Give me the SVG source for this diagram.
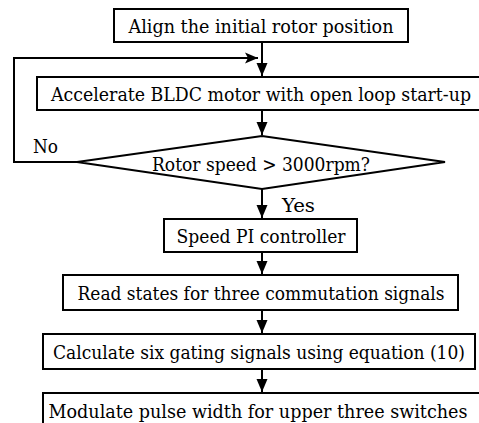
<svg xmlns="http://www.w3.org/2000/svg" width="479" height="423" viewBox="0 0 479 423">
<defs>
<style>
.box{fill:#fff;stroke:#000;stroke-width:2}
text{font-family:'DejaVu Serif Condensed','DejaVu Serif','Liberation Serif',serif;font-stretch:condensed;font-size:19px;fill:#000}
.t{text-anchor:middle}
.c{fill:none;stroke:#000;stroke-width:2}
</style>
<marker id="ah" markerUnits="userSpaceOnUse" markerWidth="14" markerHeight="14" viewBox="0 0 14 14" refX="13" refY="7" orient="auto">
<path d="M0,1.5 L13,7 L0,12.5 Z" fill="#000"/>
</marker>
<marker id="ab" markerUnits="userSpaceOnUse" markerWidth="14" markerHeight="14" viewBox="0 0 14 14" refX="13" refY="7" orient="auto">
<path d="M0,1.5 L13,7 L0,12.5 L3,7 Z" fill="#000"/>
</marker>
</defs>
<g id="connectors">
<line class="c" x1="262" y1="43" x2="262" y2="76" marker-end="url(#ah)"/>
<path class="c" d="M77,162 H14 V58 H258" marker-end="url(#ab)"/>
<line class="c" x1="262" y1="111" x2="262" y2="135" marker-end="url(#ah)"/>
<line class="c" x1="262" y1="189" x2="262" y2="218" marker-end="url(#ah)"/>
<line class="c" x1="262" y1="253" x2="262" y2="274" marker-end="url(#ah)"/>
<line class="c" x1="262" y1="311" x2="262" y2="333" marker-end="url(#ah)"/>
<line class="c" x1="262" y1="370" x2="262" y2="392" marker-end="url(#ah)"/>
<text x="33" y="153" textLength="25" lengthAdjust="spacingAndGlyphs">No</text>
<text x="282" y="212" textLength="33" lengthAdjust="spacingAndGlyphs">Yes</text>
</g>
<g id="align">
<rect class="box" x="114" y="9" width="294" height="33"/>
<text class="t" x="261" y="33" textLength="265" lengthAdjust="spacingAndGlyphs">Align the initial rotor position</text>
</g>
<g id="accelerate">
<rect class="box" x="37" y="77" width="446" height="33"/>
<text class="t" x="261" y="101" textLength="420" lengthAdjust="spacingAndGlyphs">Accelerate BLDC motor with open loop start-up</text>
</g>
<g id="decision">
<polygon class="box" points="77,162 262,136 445,162 262,189"/>
<text class="t" x="261" y="171" textLength="218" lengthAdjust="spacingAndGlyphs">Rotor speed &gt; 3000rpm?</text>
</g>
<g id="speedpi">
<rect class="box" x="164" y="219" width="193" height="33"/>
<text class="t" x="261" y="243" textLength="169" lengthAdjust="spacingAndGlyphs">Speed PI controller</text>
</g>
<g id="readstates">
<rect class="box" x="63" y="275" width="395" height="35"/>
<text class="t" x="261" y="300" textLength="367" lengthAdjust="spacingAndGlyphs">Read states for three commutation signals</text>
</g>
<g id="calculate">
<rect class="box" x="43" y="334" width="432" height="35"/>
<text class="t" x="259" y="359" textLength="412" lengthAdjust="spacingAndGlyphs">Calculate six gating signals using equation (10)</text>
</g>
<g id="modulate">
<rect class="box" x="43" y="393" width="445" height="40"/>
<text class="t" x="258" y="418" textLength="419" lengthAdjust="spacingAndGlyphs">Modulate pulse width for upper three switches</text>
</g>
</svg>
